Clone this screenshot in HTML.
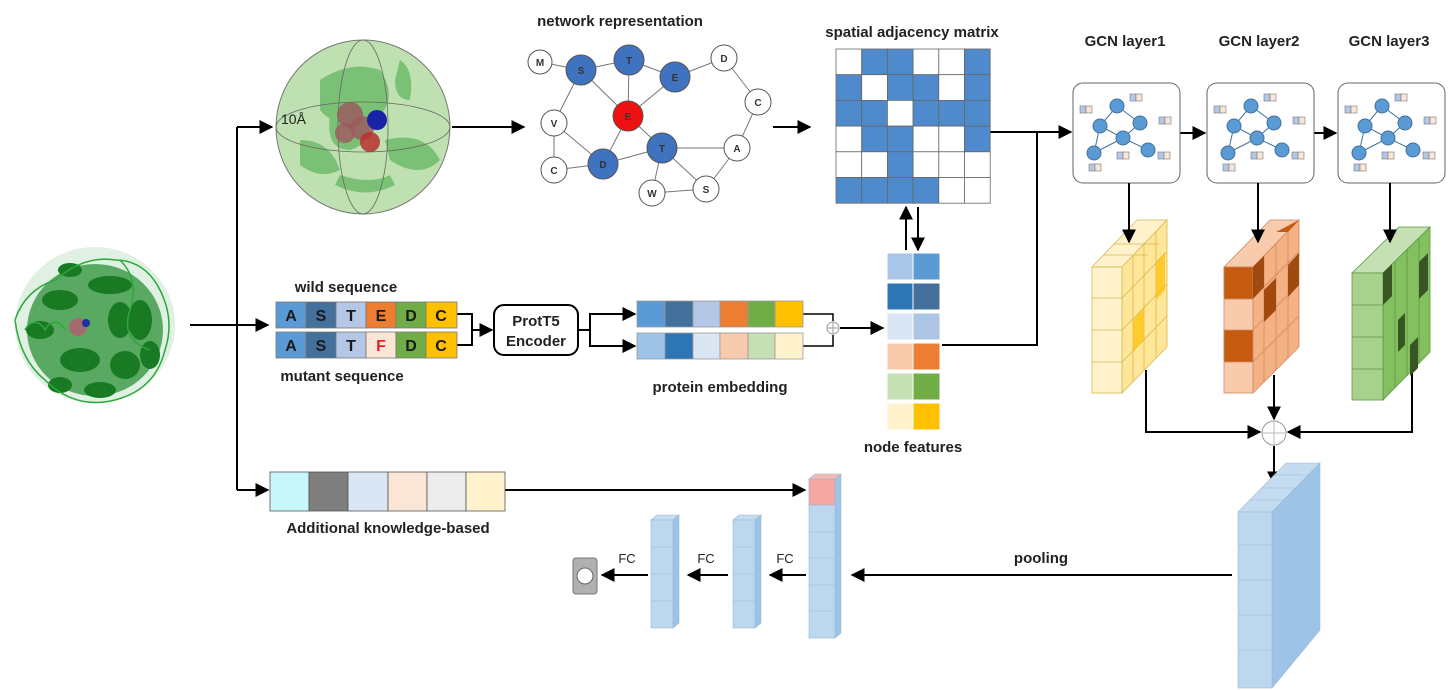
<!DOCTYPE html>
<html><head><meta charset="utf-8"><style>
html,body{margin:0;padding:0;background:#fff;}
svg{display:block;}
text{font-family:"Liberation Sans",sans-serif;}
.lb{font-size:15px;font-weight:bold;fill:#222;}
.nd{font-size:10px;font-weight:bold;fill:#333;text-anchor:middle;}
.sq{font-size:16px;font-weight:bold;fill:#1a1a1a;text-anchor:middle;}
</style></head><body>
<svg width="1454" height="690" viewBox="0 0 1454 690" xmlns="http://www.w3.org/2000/svg">
<defs>
<marker id="ah" viewBox="0 0 10 10" refX="9" refY="5" markerWidth="7" markerHeight="7" orient="auto-start-reverse"><path d="M0,0 L10,5 L0,10 z" fill="#000"/></marker>
</defs>
<g stroke="#000" stroke-width="2" fill="none">
<line x1="190" y1="325" x2="268" y2="325" marker-end="url(#ah)"/>
<polyline points="237,127 237,490"/>
<line x1="237" y1="127" x2="272" y2="127" marker-end="url(#ah)"/>
<line x1="237" y1="490" x2="268" y2="490" marker-end="url(#ah)"/>
<line x1="452" y1="127" x2="524" y2="127" marker-end="url(#ah)"/>
<line x1="773" y1="127" x2="810" y2="127" marker-end="url(#ah)"/>
<polyline points="990,132 1071,132" marker-end="url(#ah)"/>
<polyline points="942,345 1037,345 1037,132"/>
<line x1="906" y1="250" x2="906" y2="207" marker-end="url(#ah)"/>
<line x1="918" y1="207" x2="918" y2="250" marker-end="url(#ah)"/>
<line x1="1180" y1="133" x2="1205" y2="133" marker-end="url(#ah)"/>
<line x1="1312" y1="133" x2="1336" y2="133" marker-end="url(#ah)"/>
<line x1="457" y1="314" x2="472" y2="314"/>
<polyline points="457,314 472,314 472,345 457,345"/>
<line x1="472" y1="330" x2="492" y2="330" marker-end="url(#ah)"/>
<line x1="578" y1="330" x2="590" y2="330"/>
<polyline points="634,314 590,314 590,346 634,346"/>
<line x1="600" y1="314" x2="635" y2="314" marker-end="url(#ah)"/>
<line x1="600" y1="346" x2="635" y2="346" marker-end="url(#ah)"/>
<polyline points="803,314 833,314 833,321" stroke-width="1.5"/>
<polyline points="803,346 833,346 833,335" stroke-width="1.5"/>
<line x1="840" y1="328" x2="883" y2="328" marker-end="url(#ah)"/>
<line x1="505" y1="490" x2="805" y2="490" marker-end="url(#ah)"/>
<polyline points="1146,370 1146,432 1260,432" marker-end="url(#ah)"/>
<line x1="1274" y1="375" x2="1274" y2="419" marker-end="url(#ah)"/>
<polyline points="1412,370 1412,432 1288,432" marker-end="url(#ah)"/>
<line x1="1274" y1="446" x2="1274" y2="484" marker-end="url(#ah)"/>
<line x1="1232" y1="575" x2="852" y2="575" marker-end="url(#ah)"/>
<line x1="806" y1="575" x2="770" y2="575" marker-end="url(#ah)"/>
<line x1="728" y1="575" x2="688" y2="575" marker-end="url(#ah)"/>
<line x1="648" y1="575" x2="602" y2="575" marker-end="url(#ah)"/>
</g>
<circle cx="833" cy="328" r="6" fill="#fff" stroke="#999"/>
<path d="M827,328h12M833,322v12" stroke="#999"/>
<circle cx="1274" cy="433" r="12" fill="#fff" stroke="#999"/>
<path d="M1262,433h24M1274,421v24" stroke="#bbb"/>

<!-- protein structure -->
<g>
<ellipse cx="95" cy="325" rx="80" ry="78" fill="#2e9a3a" opacity="0.15"/>
<ellipse cx="95" cy="330" rx="68" ry="66" fill="#1f8a2c" opacity="0.7"/>
<g fill="#187a22">
<ellipse cx="60" cy="300" rx="18" ry="10"/><ellipse cx="110" cy="285" rx="22" ry="9"/><ellipse cx="140" cy="320" rx="12" ry="20"/>
<ellipse cx="80" cy="360" rx="20" ry="12"/><ellipse cx="125" cy="365" rx="15" ry="14"/><ellipse cx="40" cy="330" rx="14" ry="9"/>
<ellipse cx="100" cy="390" rx="16" ry="8"/><ellipse cx="150" cy="355" rx="10" ry="14"/><ellipse cx="70" cy="270" rx="12" ry="7"/>
<ellipse cx="120" cy="320" rx="12" ry="18"/><ellipse cx="60" cy="385" rx="12" ry="8"/>
</g>
<g fill="none" stroke="#2aa83a" stroke-width="1.5">
<path d="M15,320 q10,-30 40,-40 q30,-25 60,-20 q30,0 45,30 q15,30 5,60 q-10,40 -50,50 q-40,10 -70,-20 q-25,-20 -30,-60"/>
<path d="M25,330 c5,-10 15,-10 20,0 c5,-10 15,-10 20,0"/>
<path d="M120,260 q20,20 10,50 q-10,30 20,40"/>
</g>
<circle cx="78" cy="327" r="9" fill="#b06070" opacity="0.85"/>
<circle cx="86" cy="323" r="4" fill="#2030a0"/>
</g>

<!-- sphere -->
<g>
<circle cx="363" cy="127" r="87" fill="#bfe0b0" stroke="#777" stroke-width="1"/>
<g fill="#4fae4f" opacity="0.6">
<path d="M320,80 q30,-20 60,-10 q20,30 -5,50 q-40,10 -55,-10 z"/>
<path d="M300,140 q30,0 40,30 q-20,10 -40,-5z"/>
<path d="M385,140 q40,-10 55,20 q-20,20 -50,0z"/>
<path d="M400,60 q15,10 10,40 q-15,0 -15,-20z"/>
<path d="M340,175 q30,10 50,0 l5,10 q-30,15 -60,0z"/>
<path d="M330,115 q20,-10 40,5 q0,25 -20,30 q-25,0 -20,-35z"/>
</g>
<ellipse cx="363" cy="127" rx="87" ry="25" fill="none" stroke="#666" stroke-width="0.8"/>
<ellipse cx="363" cy="127" rx="25" ry="87" fill="none" stroke="#666" stroke-width="0.8"/>
<circle cx="350" cy="115" r="13" fill="#9a5a5e" opacity="0.85"/>
<circle cx="362" cy="128" r="12" fill="#9a5a5e" opacity="0.85"/>
<circle cx="345" cy="133" r="10" fill="#a05860" opacity="0.8"/>
<circle cx="370" cy="142" r="10" fill="#b83030" opacity="0.85"/>
<circle cx="377" cy="120" r="10" fill="#1a23a8"/>
<text x="281" y="124" font-size="14" fill="#222">10Å</text>
</g>

<!-- network -->
<text x="620" y="26" class="lb" text-anchor="middle">network representation</text>
<g stroke="#777" stroke-width="1">
<line x1="540" y1="62" x2="581" y2="70"/><line x1="581" y1="70" x2="629" y2="60"/><line x1="629" y1="60" x2="675" y2="77"/>
<line x1="675" y1="77" x2="724" y2="58"/><line x1="724" y1="58" x2="758" y2="102"/><line x1="758" y1="102" x2="737" y2="148"/>
<line x1="581" y1="70" x2="628" y2="116"/><line x1="629" y1="60" x2="628" y2="116"/><line x1="675" y1="77" x2="628" y2="116"/>
<line x1="581" y1="70" x2="554" y2="123"/><line x1="554" y1="123" x2="554" y2="170"/><line x1="554" y1="123" x2="603" y2="164"/>
<line x1="554" y1="170" x2="603" y2="164"/><line x1="628" y1="116" x2="603" y2="164"/><line x1="628" y1="116" x2="662" y2="148"/>
<line x1="603" y1="164" x2="662" y2="148"/><line x1="662" y1="148" x2="737" y2="148"/><line x1="662" y1="148" x2="652" y2="193"/>
<line x1="662" y1="148" x2="706" y2="189"/><line x1="652" y1="193" x2="706" y2="189"/><line x1="706" y1="189" x2="737" y2="148"/>
</g>
<g stroke="#555" stroke-width="1">
<circle cx="540" cy="62" r="12" fill="#fff"/><circle cx="724" cy="58" r="13" fill="#fff"/><circle cx="758" cy="102" r="13" fill="#fff"/>
<circle cx="554" cy="123" r="13" fill="#fff"/><circle cx="554" cy="170" r="13" fill="#fff"/><circle cx="737" cy="148" r="13" fill="#fff"/>
<circle cx="652" cy="193" r="13" fill="#fff"/><circle cx="706" cy="189" r="13" fill="#fff"/>
<circle cx="581" cy="70" r="15" fill="#3f72bf"/><circle cx="629" cy="60" r="15" fill="#3f72bf"/><circle cx="675" cy="77" r="15" fill="#3f72bf"/>
<circle cx="603" cy="164" r="15" fill="#3f72bf"/><circle cx="662" cy="148" r="15" fill="#3f72bf"/><circle cx="628" cy="116" r="15" fill="#ee1111"/>
</g>
<g>
<text x="540" y="66" class="nd">M</text><text x="581" y="74" class="nd">S</text><text x="629" y="64" class="nd">T</text><text x="675" y="81" class="nd">E</text>
<text x="724" y="62" class="nd">D</text><text x="758" y="106" class="nd">C</text><text x="554" y="127" class="nd">V</text><text x="628" y="120" class="nd">E</text>
<text x="662" y="152" class="nd">T</text><text x="737" y="152" class="nd">A</text><text x="603" y="168" class="nd">D</text><text x="554" y="174" class="nd">C</text>
<text x="652" y="197" class="nd">W</text><text x="706" y="193" class="nd">S</text>
</g>

<!-- matrix -->
<text x="912" y="37" class="lb" text-anchor="middle">spatial adjacency matrix</text>
<g stroke="#666" stroke-width="0.8">
<rect x="836" y="49" width="25.7" height="25.7" fill="#fff"/><rect x="861.7" y="49" width="25.7" height="25.7" fill="#4f8bcc"/><rect x="887.4" y="49" width="25.7" height="25.7" fill="#4f8bcc"/><rect x="913.1" y="49" width="25.7" height="25.7" fill="#fff"/><rect x="938.8" y="49" width="25.7" height="25.7" fill="#fff"/><rect x="964.5" y="49" width="25.7" height="25.7" fill="#4f8bcc"/>
<rect x="836" y="74.7" width="25.7" height="25.7" fill="#4f8bcc"/><rect x="861.7" y="74.7" width="25.7" height="25.7" fill="#fff"/><rect x="887.4" y="74.7" width="25.7" height="25.7" fill="#4f8bcc"/><rect x="913.1" y="74.7" width="25.7" height="25.7" fill="#4f8bcc"/><rect x="938.8" y="74.7" width="25.7" height="25.7" fill="#fff"/><rect x="964.5" y="74.7" width="25.7" height="25.7" fill="#4f8bcc"/>
<rect x="836" y="100.4" width="25.7" height="25.7" fill="#4f8bcc"/><rect x="861.7" y="100.4" width="25.7" height="25.7" fill="#4f8bcc"/><rect x="887.4" y="100.4" width="25.7" height="25.7" fill="#fff"/><rect x="913.1" y="100.4" width="25.7" height="25.7" fill="#4f8bcc"/><rect x="938.8" y="100.4" width="25.7" height="25.7" fill="#4f8bcc"/><rect x="964.5" y="100.4" width="25.7" height="25.7" fill="#4f8bcc"/>
<rect x="836" y="126.1" width="25.7" height="25.7" fill="#fff"/><rect x="861.7" y="126.1" width="25.7" height="25.7" fill="#4f8bcc"/><rect x="887.4" y="126.1" width="25.7" height="25.7" fill="#4f8bcc"/><rect x="913.1" y="126.1" width="25.7" height="25.7" fill="#fff"/><rect x="938.8" y="126.1" width="25.7" height="25.7" fill="#fff"/><rect x="964.5" y="126.1" width="25.7" height="25.7" fill="#4f8bcc"/>
<rect x="836" y="151.8" width="25.7" height="25.7" fill="#fff"/><rect x="861.7" y="151.8" width="25.7" height="25.7" fill="#fff"/><rect x="887.4" y="151.8" width="25.7" height="25.7" fill="#4f8bcc"/><rect x="913.1" y="151.8" width="25.7" height="25.7" fill="#fff"/><rect x="938.8" y="151.8" width="25.7" height="25.7" fill="#fff"/><rect x="964.5" y="151.8" width="25.7" height="25.7" fill="#fff"/>
<rect x="836" y="177.5" width="25.7" height="25.7" fill="#4f8bcc"/><rect x="861.7" y="177.5" width="25.7" height="25.7" fill="#4f8bcc"/><rect x="887.4" y="177.5" width="25.7" height="25.7" fill="#4f8bcc"/><rect x="913.1" y="177.5" width="25.7" height="25.7" fill="#4f8bcc"/><rect x="938.8" y="177.5" width="25.7" height="25.7" fill="#fff"/><rect x="964.5" y="177.5" width="25.7" height="25.7" fill="#fff"/>
</g>

<!-- node features -->
<g stroke="#fff" stroke-width="1">
<rect x="887" y="253" width="26" height="27" fill="#a9c6e8"/><rect x="913" y="253" width="27" height="27" fill="#5b9bd5"/>
<rect x="887" y="283" width="26" height="27" fill="#2e75b6"/><rect x="913" y="283" width="27" height="27" fill="#44709c"/>
<rect x="887" y="313" width="26" height="27" fill="#dae6f3"/><rect x="913" y="313" width="27" height="27" fill="#adc6e5"/>
<rect x="887" y="343" width="26" height="27" fill="#f8cbad"/><rect x="913" y="343" width="27" height="27" fill="#ed7d31"/>
<rect x="887" y="373" width="26" height="27" fill="#c5e0b4"/><rect x="913" y="373" width="27" height="27" fill="#70ad47"/>
<rect x="887" y="403" width="26" height="27" fill="#fff2cc"/><rect x="913" y="403" width="27" height="27" fill="#ffc000"/>
</g>
<text x="913" y="452" class="lb" text-anchor="middle">node features</text>

<!-- sequences -->
<text x="346" y="292" class="lb" text-anchor="middle">wild sequence</text>
<g stroke="#777" stroke-width="0.8">
<rect x="276" y="302" width="30" height="26" fill="#5b9bd5"/><rect x="306" y="302" width="30" height="26" fill="#44709c"/><rect x="336" y="302" width="30" height="26" fill="#b4c7e7"/><rect x="366" y="302" width="30" height="26" fill="#ed7d31"/><rect x="396" y="302" width="30" height="26" fill="#70ad47"/><rect x="426" y="302" width="31" height="26" fill="#ffc000"/>
<rect x="276" y="332" width="30" height="26" fill="#5b9bd5"/><rect x="306" y="332" width="30" height="26" fill="#44709c"/><rect x="336" y="332" width="30" height="26" fill="#b4c7e7"/><rect x="366" y="332" width="30" height="26" fill="#fbe5d6"/><rect x="396" y="332" width="30" height="26" fill="#70ad47"/><rect x="426" y="332" width="31" height="26" fill="#ffc000"/>
</g>
<g>
<text x="291" y="321" class="sq">A</text><text x="321" y="321" class="sq">S</text><text x="351" y="321" class="sq">T</text><text x="381" y="321" class="sq">E</text><text x="411" y="321" class="sq">D</text><text x="441" y="321" class="sq">C</text>
<text x="291" y="351" class="sq">A</text><text x="321" y="351" class="sq">S</text><text x="351" y="351" class="sq">T</text><text x="381" y="351" class="sq" style="fill:#e8202a">F</text><text x="411" y="351" class="sq">D</text><text x="441" y="351" class="sq">C</text>
</g>
<text x="342" y="381" class="lb" text-anchor="middle">mutant sequence</text>

<rect x="494" y="305" width="84" height="50" rx="10" fill="#fff" stroke="#000" stroke-width="2"/>
<text x="536" y="326" class="lb" text-anchor="middle">ProtT5</text>
<text x="536" y="346" class="lb" text-anchor="middle">Encoder</text>

<g stroke="#999" stroke-width="0.8">
<rect x="637" y="301" width="28" height="26" fill="#5b9bd5"/><rect x="665" y="301" width="28" height="26" fill="#44709c"/><rect x="693" y="301" width="27" height="26" fill="#b4c7e7"/><rect x="720" y="301" width="28" height="26" fill="#ed7d31"/><rect x="748" y="301" width="27" height="26" fill="#70ad47"/><rect x="775" y="301" width="28" height="26" fill="#ffc000"/>
<rect x="637" y="333" width="28" height="26" fill="#9dc3e6"/><rect x="665" y="333" width="28" height="26" fill="#2e75b6"/><rect x="693" y="333" width="27" height="26" fill="#dae6f3"/><rect x="720" y="333" width="28" height="26" fill="#f8cbad"/><rect x="748" y="333" width="27" height="26" fill="#c5e0b4"/><rect x="775" y="333" width="28" height="26" fill="#fff2cc"/>
</g>
<text x="720" y="392" class="lb" text-anchor="middle">protein embedding</text>

<!-- additional -->
<g stroke="#555" stroke-width="0.8">
<rect x="270" y="472" width="39" height="39" fill="#c9f6fb"/><rect x="309" y="472" width="39" height="39" fill="#7f7f7f"/><rect x="348" y="472" width="40" height="39" fill="#dae6f3"/><rect x="388" y="472" width="39" height="39" fill="#fbe5d6"/><rect x="427" y="472" width="39" height="39" fill="#ececec"/><rect x="466" y="472" width="39" height="39" fill="#fff2cc"/>
</g>
<text x="388" y="533" class="lb" text-anchor="middle">Additional knowledge-based</text>

<!-- GCN boxes -->
<text x="1125" y="46" class="lb" text-anchor="middle">GCN layer1</text>
<text x="1259" y="46" class="lb" text-anchor="middle">GCN layer2</text>
<text x="1389" y="46" class="lb" text-anchor="middle">GCN layer3</text>
<g id="g1">
<rect x="1073" y="83" width="107" height="100" rx="10" fill="#fff" stroke="#666"/>
<g stroke="#41719c" stroke-width="1">
<line x1="1117" y1="106" x2="1100" y2="126"/><line x1="1117" y1="106" x2="1140" y2="123"/><line x1="1100" y1="126" x2="1123" y2="138"/><line x1="1140" y1="123" x2="1123" y2="138"/><line x1="1100" y1="126" x2="1094" y2="153"/><line x1="1123" y1="138" x2="1094" y2="153"/><line x1="1123" y1="138" x2="1148" y2="150"/>
<circle cx="1117" cy="106" r="7" fill="#5b9bd5"/><circle cx="1100" cy="126" r="7" fill="#5b9bd5"/><circle cx="1140" cy="123" r="7" fill="#5b9bd5"/><circle cx="1123" cy="138" r="7" fill="#5b9bd5"/><circle cx="1094" cy="153" r="7" fill="#5b9bd5"/><circle cx="1148" cy="150" r="7" fill="#5b9bd5"/>
</g>
<g stroke="#777" stroke-width="0.6">
<rect x="1130" y="94" width="6" height="7" fill="#b4c7e7"/><rect x="1136" y="94" width="6" height="7" fill="#fbe5d6"/>
<rect x="1080" y="106" width="6" height="7" fill="#b4c7e7"/><rect x="1086" y="106" width="6" height="7" fill="#fbe5d6"/>
<rect x="1159" y="117" width="6" height="7" fill="#b4c7e7"/><rect x="1165" y="117" width="6" height="7" fill="#fbe5d6"/>
<rect x="1117" y="152" width="6" height="7" fill="#b4c7e7"/><rect x="1123" y="152" width="6" height="7" fill="#fbe5d6"/>
<rect x="1158" y="152" width="6" height="7" fill="#b4c7e7"/><rect x="1164" y="152" width="6" height="7" fill="#fbe5d6"/>
<rect x="1089" y="164" width="6" height="7" fill="#b4c7e7"/><rect x="1095" y="164" width="6" height="7" fill="#fbe5d6"/>
</g>
</g>
<use href="#g1" x="134" y="0"/>
<use href="#g1" x="265" y="0"/>

<!-- yellow block -->
<g stroke="#d8b850" stroke-width="0.8">
<polygon points="1092,267 1122,267 1167,220 1137,220" fill="#fff2cc"/>
<polygon points="1122,267 1167,220 1167,347 1122,393" fill="#ffe699"/>
<rect x="1092" y="267" width="30" height="126" fill="#fff2cc"/>
<line x1="1092" y1="298" x2="1122" y2="298"/><line x1="1092" y1="330" x2="1122" y2="330"/><line x1="1092" y1="362" x2="1122" y2="362"/>
<line x1="1133" y1="256" x2="1133" y2="382"/><line x1="1144" y1="244" x2="1144" y2="370"/><line x1="1156" y1="232" x2="1156" y2="358"/>
<line x1="1122" y1="298" x2="1167" y2="252"/><line x1="1122" y1="330" x2="1167" y2="284"/><line x1="1122" y1="362" x2="1167" y2="316"/>
<line x1="1103" y1="255" x2="1148" y2="255"/><line x1="1114" y1="244" x2="1159" y2="244"/>
<polygon points="1133,320 1144,308 1144,340 1133,352" fill="#ffc000" stroke="none" opacity="0.7"/>
<polygon points="1156,262 1165,252 1165,290 1156,300" fill="#ffc000" stroke="none" opacity="0.7"/>
</g>
<!-- orange block -->
<g stroke="#d08a60" stroke-width="0.8">
<polygon points="1224,267 1253,267 1299,220 1270,220" fill="#f8cbad"/>
<polygon points="1253,267 1299,220 1299,347 1253,393" fill="#f4b183"/>
<rect x="1224" y="267" width="29" height="126" fill="#f8cbad"/>
<rect x="1224" y="267" width="29" height="32" fill="#c55a11"/><rect x="1224" y="330" width="29" height="32" fill="#c55a11"/>
<line x1="1264" y1="256" x2="1264" y2="382"/><line x1="1276" y1="244" x2="1276" y2="370"/><line x1="1288" y1="232" x2="1288" y2="358"/>
<line x1="1253" y1="298" x2="1299" y2="252"/><line x1="1253" y1="330" x2="1299" y2="284"/><line x1="1253" y1="362" x2="1299" y2="316"/>
<polygon points="1253,267 1264,256 1264,287 1253,299" fill="#a04a10" stroke="none"/>
<polygon points="1264,290 1276,278 1276,310 1264,322" fill="#a04a10" stroke="none"/>
<polygon points="1288,265 1299,253 1299,285 1288,297" fill="#a04a10" stroke="none"/>
<polygon points="1276,232 1299,220 1288,232" fill="#c55a11" stroke="none"/>
</g>
<!-- green block -->
<g stroke="#5a9a40" stroke-width="0.8">
<polygon points="1352,273 1383,273 1430,227 1399,227" fill="#c5e0b4"/>
<polygon points="1383,273 1430,227 1430,352 1383,400" fill="#84c060"/>
<rect x="1352" y="273" width="31" height="127" fill="#a9d18e"/>
<line x1="1352" y1="305" x2="1383" y2="305"/><line x1="1352" y1="337" x2="1383" y2="337"/><line x1="1352" y1="369" x2="1383" y2="369"/>
<line x1="1395" y1="262" x2="1395" y2="388"/><line x1="1407" y1="250" x2="1407" y2="376"/><line x1="1419" y1="238" x2="1419" y2="364"/>
<polygon points="1383,273 1392,264 1392,296 1383,305" fill="#375623" stroke="none"/>
<polygon points="1398,320 1405,313 1405,345 1398,352" fill="#375623" stroke="none"/>
<polygon points="1419,262 1428,253 1428,290 1419,299" fill="#375623" stroke="none"/>
<polygon points="1410,345 1418,337 1418,368 1410,376" fill="#375623" stroke="none"/>
</g>
<g stroke="#000" stroke-width="2" fill="none">
<line x1="1129" y1="183" x2="1129" y2="242" marker-end="url(#ah)"/>
<line x1="1258" y1="183" x2="1258" y2="242" marker-end="url(#ah)"/>
<line x1="1390" y1="183" x2="1390" y2="242" marker-end="url(#ah)"/>
</g>

<!-- pooled block -->
<g stroke="#9ab8d8" stroke-width="0.6">
<polygon points="1238,512 1272,512 1320,463 1286,463" fill="#c5dcf0"/>
<polygon points="1272,512 1320,463 1320,630 1272,688" fill="#9dc3e6"/>
<rect x="1238" y="512" width="34" height="176" fill="#bdd7ee"/>
<line x1="1238" y1="545" x2="1272" y2="545"/><line x1="1238" y1="580" x2="1272" y2="580"/><line x1="1238" y1="615" x2="1272" y2="615"/><line x1="1238" y1="650" x2="1272" y2="650"/>
<line x1="1250" y1="500" x2="1284" y2="500"/><line x1="1262" y1="488" x2="1296" y2="488"/><line x1="1274" y1="475" x2="1308" y2="475"/>
</g>

<!-- concat column -->
<g stroke="#9ab8d8" stroke-width="0.6">
<polygon points="809,479 835,479 841,474 815,474" fill="#f7b8b0"/>
<polygon points="835,479 841,474 841,633 835,638" fill="#9dc3e6"/>
<rect x="809" y="479" width="26" height="159" fill="#bdd7ee"/>
<rect x="809" y="479" width="26" height="26" fill="#f4a6a0"/>
<line x1="809" y1="532" x2="835" y2="532"/><line x1="809" y1="558" x2="835" y2="558"/><line x1="809" y1="585" x2="835" y2="585"/><line x1="809" y1="611" x2="835" y2="611"/>
</g>
<g stroke="#9ab8d8" stroke-width="0.6">
<polygon points="733,520 755,520 761,515 739,515" fill="#c5dcf0"/>
<polygon points="755,520 761,515 761,623 755,628" fill="#9dc3e6"/>
<rect x="733" y="520" width="22" height="108" fill="#bdd7ee"/>
<line x1="733" y1="547" x2="755" y2="547"/><line x1="733" y1="574" x2="755" y2="574"/><line x1="733" y1="601" x2="755" y2="601"/>
<polygon points="651,520 673,520 679,515 657,515" fill="#c5dcf0"/>
<polygon points="673,520 679,515 679,623 673,628" fill="#9dc3e6"/>
<rect x="651" y="520" width="22" height="108" fill="#bdd7ee"/>
<line x1="651" y1="547" x2="673" y2="547"/><line x1="651" y1="574" x2="673" y2="574"/><line x1="651" y1="601" x2="673" y2="601"/>
</g>
<rect x="573" y="558" width="24" height="36" rx="3" fill="#b0b0b0" stroke="#777"/>
<circle cx="585" cy="576" r="8" fill="#fff" stroke="#666"/>
<text x="785" y="563" font-size="13" fill="#222" text-anchor="middle">FC</text>
<text x="706" y="563" font-size="13" fill="#222" text-anchor="middle">FC</text>
<text x="627" y="563" font-size="13" fill="#222" text-anchor="middle">FC</text>
<text x="1041" y="563" class="lb" text-anchor="middle">pooling</text>
</svg>
</body></html>
